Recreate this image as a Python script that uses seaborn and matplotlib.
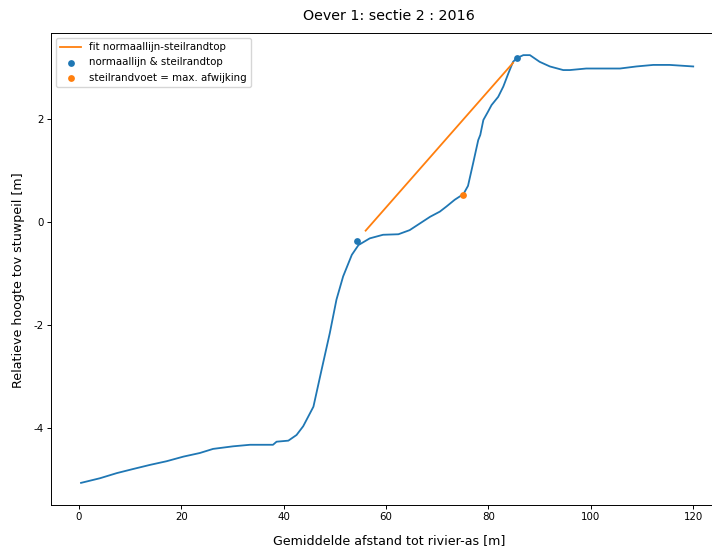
import matplotlib
matplotlib.use("Agg")
import matplotlib.pyplot as plt
import seaborn as sns
import pandas as pd

# profile (distance [m], relative height [m])
afstand = [0.4, 4.1, 7.4, 10.6, 13.9, 17.1, 20.4, 23.6, 26.2, 30.1, 33.4, 37.9, 38.6,
           40.9, 42.5, 43.8, 45.8, 47.4, 49.0, 50.3, 51.6, 53.3, 54.6, 56.8, 59.4,
           62.4, 64.6, 66.6, 68.6, 70.5, 71.8, 73.4, 75.1, 76.0, 77.0, 78.0, 78.4,
           79.0, 79.9, 80.6, 81.9, 82.9, 83.9, 84.8, 85.5, 86.8, 88.1, 90.0, 92.0,
           94.6, 95.9, 99.1, 105.7, 108.9, 112.2, 115.4, 120.0]
hoogte = [-5.07, -4.98, -4.88, -4.80, -4.72, -4.65, -4.56, -4.49, -4.41, -4.36, -4.33,
          -4.33, -4.27, -4.25, -4.14, -3.97, -3.59, -2.87, -2.16, -1.51, -1.06, -0.64,
          -0.45, -0.32, -0.25, -0.24, -0.16, -0.03, 0.10, 0.20, 0.30, 0.43, 0.54, 0.70,
          1.14, 1.59, 1.69, 1.98, 2.14, 2.27, 2.43, 2.63, 2.89, 3.11, 3.18, 3.24, 3.24,
          3.11, 3.02, 2.95, 2.95, 2.98, 2.98, 3.02, 3.05, 3.05, 3.02]

# fit line normaallijn-steilrandtop
fit_x = [56.0, 84.8]
fit_y = [-0.17, 3.09]

# normaallijn & steilrandtop points
top_x = [54.3, 85.5]
top_y = [-0.37, 3.18]

# steilrandvoet
voet_x = [75.0]
voet_y = [0.52]

plt.rcParams["axes.unicode_minus"] = False
plt.rcParams["axes.linewidth"] = 0.7
plt.rcParams["xtick.major.width"] = 0.7
plt.rcParams["ytick.major.width"] = 0.7
plt.rcParams["xtick.major.size"] = 2.6
plt.rcParams["ytick.major.size"] = 2.6
plt.rcParams["xtick.major.pad"] = 2.8
plt.rcParams["ytick.major.pad"] = 2.8

fig = plt.figure(figsize=(7.12, 5.49), dpi=100)
ax = fig.add_axes([51 / 712, 44 / 549, 676 / 712, 472 / 549])

prof = pd.DataFrame({"x": afstand, "y": hoogte})
sns.lineplot(data=prof, x="x", y="y", sort=False, estimator=None, color="C0",
             linewidth=1.3, ax=ax)
sns.lineplot(x=fit_x, y=fit_y, sort=False, estimator=None, color="C1",
             linewidth=1.3, ax=ax, label="fit normaallijn-steilrandtop")
sns.scatterplot(x=top_x, y=top_y, color="C0", s=24, linewidth=0, ax=ax,
                label="normaallijn & steilrandtop", zorder=3)
sns.scatterplot(x=voet_x, y=voet_y, color="C1", s=24, linewidth=0, ax=ax,
                label="steilrandvoet = max. afwijking", zorder=3)

ax.set_xlim(-5.47, 126.6)
ax.set_ylim(-5.50, 3.67)
ax.set_xticks([0, 20, 40, 60, 80, 100, 120])
ax.set_yticks([-4, -2, 0, 2])
ax.set_xlabel("Gemiddelde afstand tot rivier-as [m]", fontsize=9.1, labelpad=8)
ax.set_ylabel("Relatieve hoogte tov stuwpeil [m]", fontsize=9.1)
ax.yaxis.set_label_coords(-0.0385, 0.477)
ax.set_title("Oever 1: sectie 2 : 2016", fontsize=10.3, pad=9)
ax.tick_params(labelsize=7.4)
ax.legend(loc="upper left", fontsize=7.4)

fig.savefig("out.png", dpi=100)
